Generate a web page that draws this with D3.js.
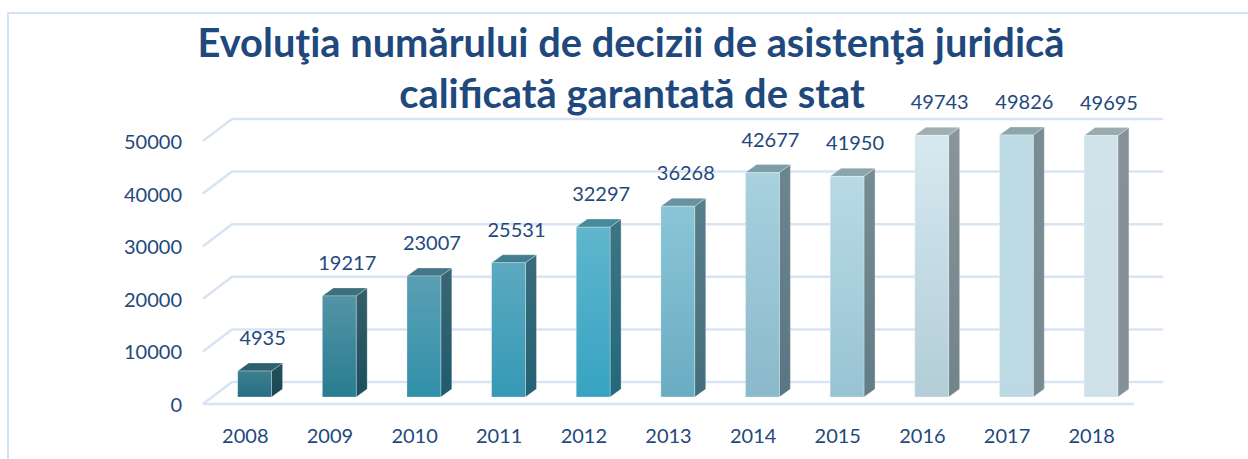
<!DOCTYPE html>
<html>
<head>
<meta charset="utf-8">
<script src="https://cdn.jsdelivr.net/npm/d3@7"></script>
<style>
  html, body { margin: 0; padding: 0; background: #ffffff; }
  svg { display: block; }
  text { font-family: Lato, "Open Sans", sans-serif; }
</style>
</head>
<body>
<svg id="chart" width="1248" height="459"></svg>
<script>
const years = ["2008","2009","2010","2011","2012","2013","2014","2015","2016","2017","2018"];
const values = [4935,19217,23007,25531,32297,36268,42677,41950,49743,49826,49695];
const yTicks = [0,10000,20000,30000,40000,50000];
const titleLines = ["Evoluţia numărului de decizii de asistenţă juridică", "calificată garantată de stat"];
const frontTop    = ["#3d7f90","#5394a6","#5aa0b5","#5ba9c0","#5fb6cd","#8ac5d7","#a9d1df","#b8dbe6","#d6e9f0","#bedbe5","#d0e3ea"];
const frontBottom = ["#266f82","#297c90","#3190a9","#3699b5","#37a3c2","#6aacc2","#8ab9cb","#98c3d3","#b2cdd7","#bcd9e4","#cee1e9"];

const svg = d3.select("#chart");
const textColor = "#1f497d";
const gridColor = "#d8e3f3";

// frame
svg.append("rect").attr("x", 8).attr("y", 13).attr("width", 1400).attr("height", 600)
  .attr("fill", "none").attr("stroke", "#d5e2f3").attr("stroke-width", 2);

// scales (front plane)
const x = d3.scaleBand().domain(years).range([203, 1134]).paddingInner(0.6).paddingOuter(0.3);
const y = d3.scaleLinear().domain([0, 50000]).range([404, 141]);
const back = { dx: 29, dy: -22 };     // back wall offset
const barOff = { dx: 9.3, dy: -7 };   // bar front face offset from front plane
const barDepth = { dx: 11, dy: -8 };  // bar depth

// gridlines
const grid = svg.append("g").attr("fill", "none").attr("stroke", gridColor).attr("stroke-width", 2.5);
yTicks.forEach(t => {
  const yf = y(t), yb = y(t) + back.dy;
  grid.append("path").attr("d", `M${x.range()[0]},${yf}L${x.range()[0] + back.dx},${yb}L${x.range()[1] + back.dx},${yb}`);
});
grid.append("line").attr("x1", x.range()[0]).attr("x2", x.range()[1]).attr("y1", y(0)).attr("y2", y(0));

// gradients
const defs = svg.append("defs");
years.forEach((yr, i) => {
  const gf = defs.append("linearGradient").attr("id", "gf" + i).attr("x1", 0).attr("y1", 0).attr("x2", 0).attr("y2", 1);
  gf.append("stop").attr("offset", "0%").attr("stop-color", frontTop[i]);
  gf.append("stop").attr("offset", "100%").attr("stop-color", frontBottom[i]);
  const gs = defs.append("linearGradient").attr("id", "gs" + i).attr("x1", 0).attr("y1", 0).attr("x2", 0).attr("y2", 1);
  gs.append("stop").attr("offset", "0%").attr("stop-color", d3.color(frontTop[i]).darker(1.25));
  gs.append("stop").attr("offset", "100%").attr("stop-color", d3.color(frontBottom[i]).darker(1.25));
});

// bars
const bars = svg.append("g");
years.forEach((yr, i) => {
  const xl = x(yr) + barOff.dx, xr = xl + x.bandwidth();
  const yb = y(0) + barOff.dy, yt = y(values[i]) + barOff.dy;
  const g = bars.append("g").attr("stroke", "rgba(255,255,255,0.35)").attr("stroke-width", 0.8);
  g.append("path").attr("fill", `url(#gs${i})`)
    .attr("d", `M${xr},${yt}L${xr + barDepth.dx},${yt + barDepth.dy}L${xr + barDepth.dx},${yb + barDepth.dy}L${xr},${yb}Z`);
  g.append("path").attr("fill", d3.color(frontTop[i]).darker(0.8))
    .attr("d", `M${xl},${yt}L${xl + barDepth.dx},${yt + barDepth.dy}L${xr + barDepth.dx},${yt + barDepth.dy}L${xr},${yt}Z`);
  g.append("rect").attr("x", xl).attr("y", yt).attr("width", xr - xl).attr("height", yb - yt)
    .attr("fill", `url(#gf${i})`);
});

// value labels
svg.append("g").selectAll("text").data(years).join("text")
  .attr("x", d => x(d) + x.bandwidth() / 2 + barOff.dx + 8)
  .attr("y", (d, i) => y(values[i]) + barOff.dy - 33)
  .attr("dy", "0.35em")
  .attr("text-anchor", "middle")
  .attr("font-size", 20)
  .attr("fill", textColor)
  .text((d, i) => values[i]);

// y axis
const yAxis = svg.append("g").attr("transform", "translate(185,1)")
  .call(d3.axisLeft(y).tickValues(yTicks).tickSize(0).tickPadding(3).tickFormat(d3.format("d")));
yAxis.select(".domain").remove();
yAxis.selectAll("text").attr("font-size", 20).attr("fill", textColor).attr("font-family", "Lato, 'Open Sans', sans-serif");

// x axis
const xAxis = svg.append("g").attr("transform", "translate(0,421)")
  .call(d3.axisBottom(x).tickSize(0).tickPadding(8));
xAxis.select(".domain").remove();
xAxis.selectAll("text").attr("font-size", 20).attr("fill", textColor).attr("font-family", "Lato, 'Open Sans', sans-serif");

// title
const title = svg.append("g").attr("fill", textColor).attr("font-weight", "bold");
const t1 = title.append("text").attr("x", 631).attr("y", 57).attr("text-anchor", "middle")
  .attr("font-size", 36).text(titleLines[0]);
const w = t1.node().getComputedTextLength();
const fs = 36 * 867 / w;
t1.attr("font-size", fs);
title.append("text").attr("x", 632).attr("y", 108).attr("text-anchor", "middle")
  .attr("font-size", fs).text(titleLines[1]);
</script>
</body>
</html>
